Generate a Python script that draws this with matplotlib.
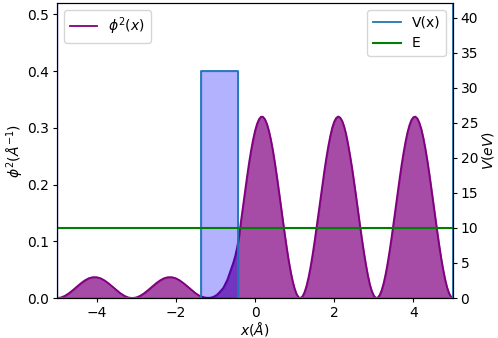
import matplotlib
matplotlib.use('Agg')
import matplotlib.pyplot as plt

plt.rcParams['font.size'] = 10
plt.rcParams['xtick.major.size'] = 3
plt.rcParams['ytick.major.size'] = 3
plt.rcParams['xtick.major.pad'] = 2.5
plt.rcParams['ytick.major.pad'] = 2.5

# x grid (Angstrom) and probability density
x = [-5.0, -4.9, -4.8, -4.7, -4.6, -4.5, -4.4, -4.3, -4.2, -4.1,
     -4.0, -3.9, -3.8, -3.7, -3.6, -3.5, -3.4, -3.3, -3.2, -3.1,
     -3.0, -2.9, -2.8, -2.7, -2.6, -2.5, -2.4, -2.3, -2.2, -2.1,
     -2.0, -1.9, -1.8, -1.7, -1.6, -1.5, -1.4, -1.35, -1.3, -1.25,
     -1.2, -1.15, -1.1, -1.05, -1.0, -0.95, -0.9, -0.85, -0.8, -0.75,
     -0.7, -0.65, -0.6, -0.55, -0.5, -0.45, -0.4, -0.35, -0.3, -0.25,
     -0.2, -0.15, -0.1, -0.05, 0.0, 0.05, 0.1, 0.15, 0.2, 0.25,
     0.3, 0.35, 0.4, 0.45, 0.5, 0.55, 0.6, 0.65, 0.7, 0.75,
     0.8, 0.85, 0.9, 0.95, 1.0, 1.05, 1.1, 1.15, 1.2, 1.25,
     1.3, 1.35, 1.4, 1.45, 1.5, 1.55, 1.6, 1.65, 1.7, 1.75,
     1.8, 1.85, 1.9, 1.95, 2.0, 2.05, 2.1, 2.15, 2.2, 2.25,
     2.3, 2.35, 2.4, 2.45, 2.5, 2.55, 2.6, 2.65, 2.7, 2.75,
     2.8, 2.85, 2.9, 2.95, 3.0, 3.05, 3.1, 3.15, 3.2, 3.25,
     3.3, 3.35, 3.4, 3.45, 3.5, 3.55, 3.6, 3.65, 3.7, 3.75,
     3.8, 3.85, 3.9, 3.95, 4.0, 4.05, 4.1, 4.15, 4.2, 4.25,
     4.3, 4.35, 4.4, 4.45, 4.5, 4.55, 4.6, 4.65, 4.7, 4.75,
     4.8, 4.85, 4.9, 4.95, 5.0]
phi2 = [0.0, 0.0010, 0.0039, 0.0084, 0.0140, 0.0200, 0.0259, 0.0310, 0.0348, 0.0367,
        0.0367, 0.0348, 0.0310, 0.0259, 0.0200, 0.0140, 0.0084, 0.0039, 0.0010, 0.0,
        0.0010, 0.0039, 0.0084, 0.0140, 0.0200, 0.0259, 0.0310, 0.0348, 0.0367, 0.0367,
        0.0348, 0.0310, 0.0259, 0.0200, 0.0140, 0.0084, 0.0039, 0.0025, 0.0015, 0.0008,
        0.0004, 0.0005, 0.0010, 0.0022, 0.0040, 0.0065, 0.0100, 0.0140, 0.0180, 0.0250,
        0.0320, 0.0420, 0.0520, 0.0620, 0.0740, 0.0900, 0.1100, 0.1380, 0.1639, 0.1898,
        0.2148, 0.2387, 0.2602, 0.2789, 0.2947, 0.3069, 0.3152, 0.3195, 0.3195, 0.3152,
        0.3069, 0.2947, 0.2790, 0.2602, 0.2384, 0.2148, 0.1898, 0.1639, 0.1380, 0.1125,
        0.0884, 0.0660, 0.0466, 0.0297, 0.0164, 0.0068, 0.0014, 0.0001, 0.0030, 0.0102,
        0.0213, 0.0361, 0.0539, 0.0749, 0.0978, 0.1223, 0.1478, 0.1735, 0.1994, 0.2239,
        0.2468, 0.2675, 0.2854, 0.3005, 0.3110, 0.3174, 0.3200, 0.3181, 0.3123, 0.3023,
        0.2884, 0.2707, 0.2506, 0.2290, 0.2050, 0.1798, 0.1537, 0.1281, 0.1032, 0.0799,
        0.0587, 0.0396, 0.0237, 0.0120, 0.0041, 0.0003, 0.0008, 0.0054, 0.0141, 0.0267,
        0.0428, 0.0620, 0.0838, 0.1076, 0.1328, 0.1587, 0.1847, 0.2100, 0.2341, 0.2559,
        0.2754, 0.2919, 0.3048, 0.3139, 0.3188, 0.3198, 0.3164, 0.3088, 0.2976, 0.2822,
        0.2638, 0.2427, 0.2194, 0.1947, 0.1688, 0.1431, 0.1175, 0.0932, 0.0703, 0.0503,
        0.0328, 0.0187, 0.0084, 0.0021, 0.0]

# potential: hard walls at the edges, one barrier
xv = [-5.0, -5.0, -1.36, -1.36, -0.44, -0.44, 5.0, 5.0]
V = [100, 0, 0, 32.4, 32.4, 0, 0, 100]
E = 10.0

fig, ax1 = plt.subplots(figsize=(4.98, 3.38), dpi=100)
fig.subplots_adjust(left=0.1145, right=0.9096, top=0.991, bottom=0.1183)
ax1.plot(x, phi2, color='purple', lw=1.3, label=r'$\phi^2(x)$')
ax1.fill_between(x, phi2, color='purple', alpha=0.7)
ax1.set_xlim(-5, 5)
ax1.set_ylim(0, 0.52)
ax1.set_xlabel(r'$x(Å)$', labelpad=0)
ax1.set_ylabel(r'$\phi^2(Å^{-1})$', labelpad=1)
ax1.legend(loc='upper left')

ax2 = ax1.twinx()
ax2.plot(xv, V, color='C0', lw=1.3, label='V(x)')
ax2.fill_between(xv, V, color='blue', alpha=0.3)
ax2.plot([-5, 5], [E, E], color='green', lw=1.5, label='E')
ax2.set_ylim(0, 42.1)
ax2.set_ylabel(r'$V(eV)$', labelpad=1)
ax2.legend(loc='upper right')

plt.savefig('out.png')
